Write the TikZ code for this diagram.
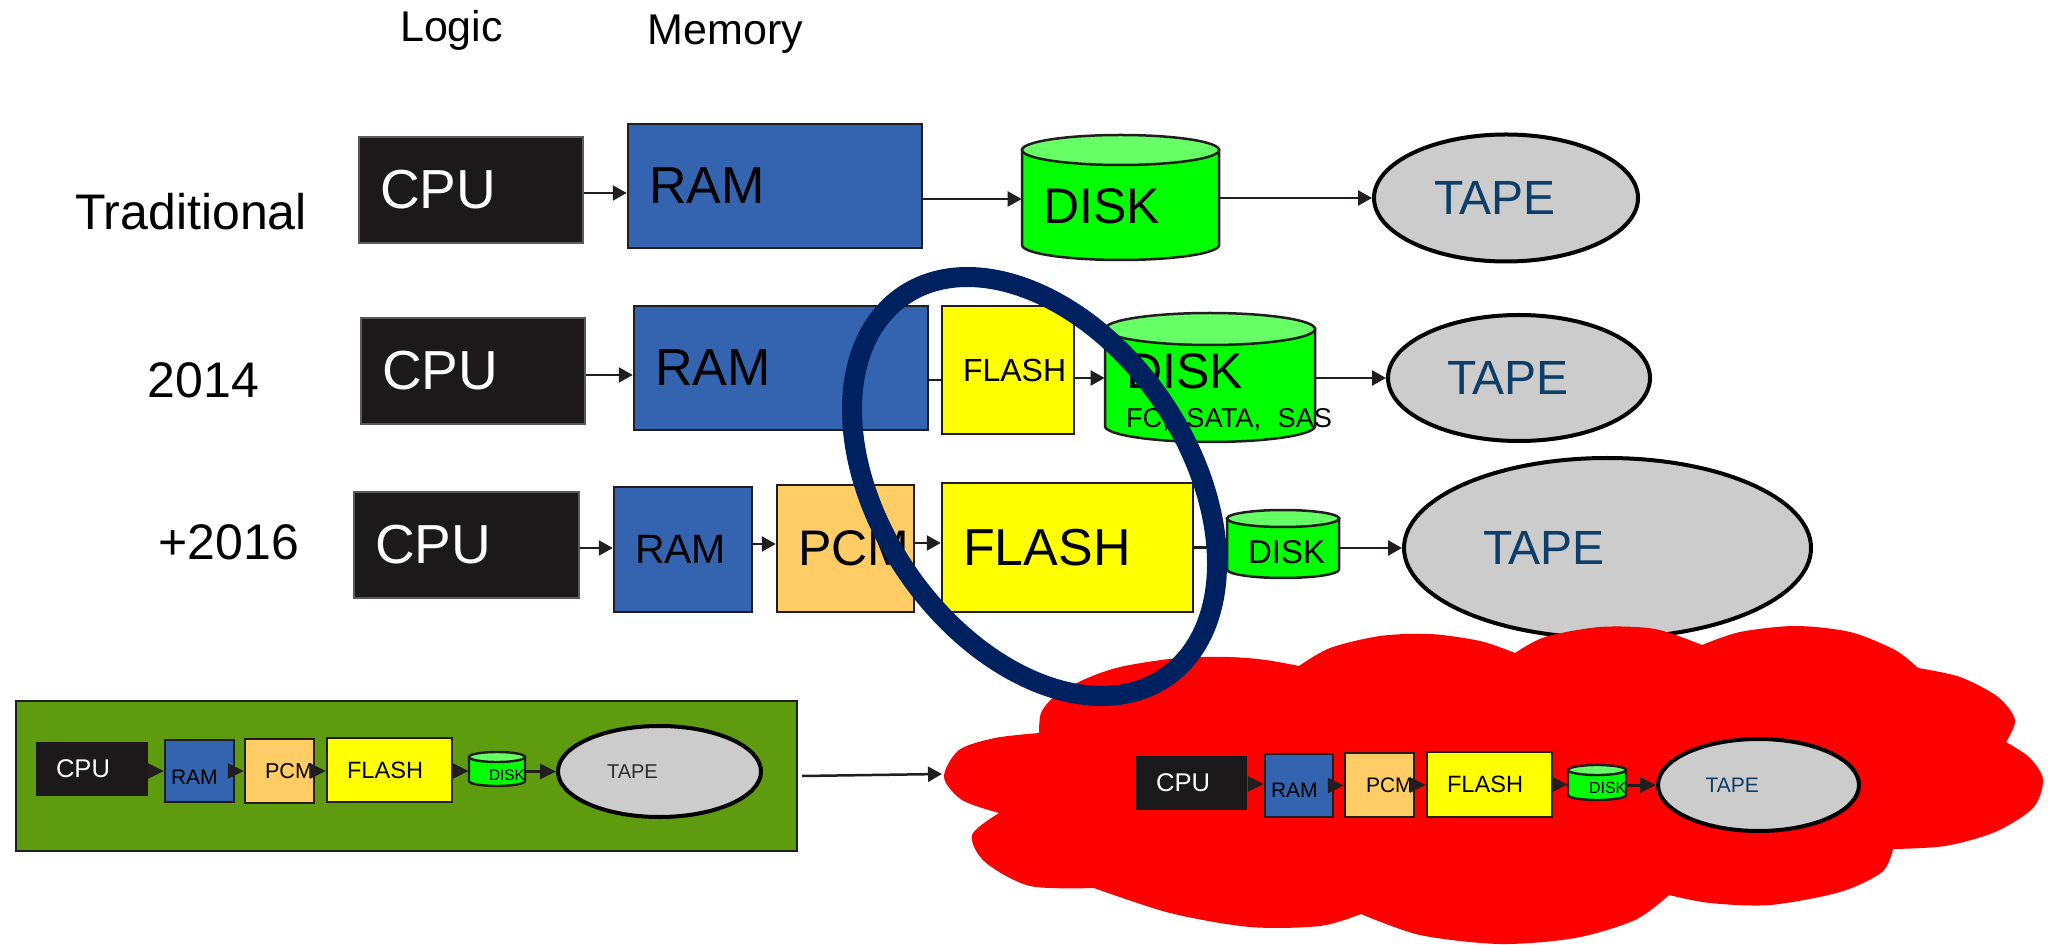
\documentclass[tikz,border=0pt]{standalone}
\usepackage{fontspec}
\setmainfont{Liberation Sans}
\usetikzlibrary{arrows.meta,shapes.geometric}
\hyphenpenalty=10000
\exhyphenpenalty=10000
\frenchspacing
\definecolor{linec}{RGB}{34,30,31}
\definecolor{cpuc}{RGB}{27,25,25}
\definecolor{cpub}{RGB}{90,90,90}
\definecolor{ramc}{RGB}{52,100,176}
\definecolor{pcmc}{RGB}{255,204,102}
\definecolor{flashc}{RGB}{255,255,0}
\definecolor{diskg}{RGB}{0,255,0}
\definecolor{diskt}{RGB}{102,255,102}
\definecolor{tapec}{RGB}{204,204,204}
\definecolor{tapet}{RGB}{12,62,105}
\definecolor{grnc}{RGB}{95,155,14}
\definecolor{navyc}{RGB}{0,33,96}
\definecolor{cloudr}{RGB}{255,0,0}
\definecolor{dgray}{RGB}{45,45,45}
\newcommand\fsz[1]{\fontsize{#1}{#1}\selectfont}
% cylinder body + lid: x1,y1,x2,y2 (pixels, y downward), lid half-height, line width
\newcommand\cylshape[6]{%
  \filldraw[fill=diskg,draw=linec,line width=#6] ({#1},{-(#2+#5)}) -- ({#1},{-(#4-#5)})
    arc[start angle=180,end angle=360,x radius={(#3-#1)/2},y radius={#5}] -- ({#3},{-(#2+#5)}) -- cycle;
  \filldraw[fill=diskt,draw=linec,line width=#6] ({(#1+#3)/2},{-(#2+#5)}) ellipse[x radius={(#3-#1)/2},y radius={#5}];
}
\tikzset{
  sz/.style n args={3}{minimum width=#1pt,minimum height=#2pt,text width=#3pt},
  bx/.style={rectangle,draw=linec,line width=1.25pt,inner xsep=10.5pt,inner ysep=0pt,align=left},
  cpu/.style={bx,fill=cpuc,draw=cpub,line width=0.75pt,text=white},
  ram/.style={bx,fill=ramc},
  pcm/.style={bx,fill=pcmc},
  flash/.style={bx,fill=flashc},
  dsk/.style={rectangle,inner xsep=10.5pt,inner ysep=0pt,align=left},
  tape/.style={ellipse,draw=black,line width=2pt,fill=tapec,text=tapet,inner sep=0pt,align=left},
  lbl/.style={font=\fsz{25}},
  hdr/.style={font=\fsz{21.5},anchor=base},
  arr/.style={draw=linec,line width=1.25pt,-{Triangle[length=7pt,width=7.5pt]}},
  ln/.style={draw=linec,line width=1.25pt},
  marr/.style={draw=linec,line width=1.5pt,-{Triangle[length=8pt,width=7.5pt]}},
}
\begin{document}
\begin{tikzpicture}[x=0.5pt,y=0.5pt]
\fill[white] (0,0) rectangle (2048,-945);
\useasboundingbox (0,0) rectangle (2048,-945);

% headers
\node[hdr] (hlog) at (451.5,-42) {Logic};
\node[hdr] (hmem) at (725.5,-45) {Memory};

% row 1
\node[lbl] (lab1) at (191,-212) {Traditional};
\node[cpu,sz={112}{53}{91},font=\fsz{27.5}] (c1) at (471,-190) {CPU};
\node[ram,sz={147}{62}{126},font=\fsz{26}] (r1) at (775,-186) {RAM};
\cylshape{1022}{135}{1219}{260}{15}{1.25pt}
\node[dsk,sz={98.5}{0}{77.5},font=\fsz{25}] (d1) at (1120.5,-206) {DISK};
\node[tape,minimum width=132pt,minimum height=63.5pt,text width=72pt,font=\fsz{24}] (t1) at (1506,-198) {TAPE};
\draw[arr] ([yshift=-1.5pt]c1.east) -- ([yshift=-1.5pt]c1.east -| r1.west);
\draw[arr] ([yshift=-6.5pt]r1.east) -- ([yshift=-6.5pt]r1.east -| d1.west);
\draw[arr] (d1.east |- t1.west) -- (t1.west);

% row 2
\node[lbl] (lab2) at (203.5,-380.5) {2014};
\node[cpu,sz={112}{53}{91},font=\fsz{27.5}] (c2) at (473,-371) {CPU};
\node[ram,sz={147}{62}{126},font=\fsz{26}] (r2) at (781,-368) {RAM};
\node[flash,sz={66}{64}{45},font=\fsz{16}] (f2) at (1008,-370) {FLASH};
\cylshape{1105}{313}{1315}{442}{16}{1.25pt}
\node[dsk,sz={105}{0}{84},font=\fontsize{25}{19.5}\selectfont] (d2) at (1210,-392) {DISK\\\mbox{\fsz{13.6}FC, SATA, SAS}};
\node[tape,minimum width=131pt,minimum height=63pt,text width=72pt,font=\fsz{24}] (t2) at (1519,-378) {TAPE};
\draw[arr] ([yshift=-2pt]c2.east) -- ([yshift=-2pt]c2.east -| r2.west);
\draw[ln] ([yshift=-6pt]r2.east) -- ([yshift=-6pt]r2.east -| f2.west);
\draw[arr] ([yshift=-4pt]f2.east) -- ([yshift=-4pt]f2.east -| d2.west);
\draw[arr] (d2.east |- t2.west) -- (t2.west);

% row 3
\node[lbl] (lab3) at (229,-542.5) {+2016};
\node[cpu,sz={112.5}{53}{91.5},font=\fsz{27.5}] (c3) at (466.5,-545) {CPU};
\node[ram,sz={69}{62.5}{48},font=\fsz{20.5}] (r3) at (683,-549.5) {RAM};
\node[pcm,sz={68.5}{63.5}{47.5},font=\fsz{25}] (p3) at (845.5,-548.5) {PCM};
\node[flash,sz={125.5}{64.5}{104.5},font=\fsz{26}] (f3) at (1067.5,-547.5) {FLASH};
\cylshape{1227}{510}{1339}{578}{8.5}{1.25pt}
\node[dsk,sz={56}{0}{35},font=\fsz{16.5}] (d3) at (1283,-552) {DISK};
\node[tape,minimum width=203.5pt,minimum height=90pt,text width=124.5pt,font=\fsz{24}] (t3) at (1607.5,-548) {TAPE};
\draw[arr] ([yshift=-1.5pt]c3.east) -- ([yshift=-1.5pt]c3.east -| r3.west);
\draw[arr] ([yshift=2.75pt]r3.east) -- ([yshift=2.75pt]r3.east -| p3.west);
\draw[arr] ([yshift=2.75pt]p3.east) -- ([yshift=2.75pt]p3.east -| f3.west);
\draw[ln] (f3.east) -- (f3.east -| d3.west);
\draw[arr] (d3.east |- t3.west) -- (t3.west);

% cloud
\fill[cloudr] plot[smooth] coordinates {(1039,-733) (1041,-713) (1054,-697) (1083,-680) (1120,-667) (1178,-658) (1229,-657) (1266,-660) (1299,-666)}
 -- plot[smooth] coordinates {(1299,-666) (1330,-648) (1380,-636) (1430,-634) (1480,-641) (1515,-653)}
 -- plot[smooth] coordinates {(1515,-653) (1545,-637) (1600,-627) (1655,-629) (1702,-645)}
 -- plot[smooth] coordinates {(1702,-645) (1740,-632) (1795,-626) (1850,-632) (1895,-650) (1918,-668)}
 -- plot[smooth] coordinates {(1918,-668) (1960,-677) (1998,-697) (2015,-720) (2006,-742)}
 -- plot[smooth] coordinates {(2006,-742) (2030,-758) (2043,-780) (2033,-808) (1995,-832) (1945,-846) (1893,-849)}
 -- plot[smooth] coordinates {(1893,-849) (1882,-872) (1840,-892) (1770,-905) (1710,-903) (1669,-895)}
 -- plot[smooth] coordinates {(1669,-895) (1635,-920) (1575,-938) (1500,-944) (1420,-935) (1361,-914)}
 -- plot[smooth] coordinates {(1361,-914) (1320,-926) (1250,-927) (1170,-913) (1094,-888)}
 -- plot[smooth] coordinates {(1094,-888) (1030,-886) (985,-862) (972,-835) (999,-813)}
 -- plot[smooth] coordinates {(999,-813) (962,-800) (944,-777) (959,-750) (995,-738) (1039,-733)}
 -- cycle;
\coordinate (cloudL) at (942,-774);

% cloud contents
\node[cpu,draw=none,sz={55.5}{27}{35.5},inner xsep=10pt,font=\fsz{12.8}] (kc) at (1191.5,-783) {CPU};
\node[ram,line width=1.2pt,sz={34}{31.5}{28},inner xsep=3pt,font=\fsz{10.5}] (kr) at (1299,-785.5) {\raisebox{-2.25pt}[\height][\depth]{RAM}};
\node[pcm,line width=1.2pt,sz={34.5}{32}{13.5},font=\fsz{10.5}] (kp) at (1379.5,-785) {PCM};
\node[flash,line width=1.2pt,sz={62.5}{32.5}{42.5},inner xsep=10pt,font=\fsz{11.8}] (kf) at (1489.5,-784.5) {FLASH};
\cylshape{1568}{765}{1626}{800}{5}{1.2pt}
\node[dsk,sz={29}{0}{8},font=\fsz{8}] (kd) at (1597,-788) {DISK};
\node[tape,minimum width=100.5pt,minimum height=46pt,text width=53pt,font=\fsz{10.5}] (kt) at (1758.5,-785) {TAPE};
\draw[marr] ([yshift=-0.5pt]kc.east) -- ([yshift=-0.5pt]kc.east -| kr.west);
\draw[marr] (kr.east) -- (kr.east -| kp.west);
\draw[marr] (kp.east) -- (kp.east -| kf.west);
\draw[marr] (kf.east) -- (kf.east -| kd.west);
\draw[marr] (kd.east |- kt.west) -- (kt.west);

% green group
\node[draw=linec,line width=1pt,fill=grnc,minimum width=390.5pt,minimum height=75pt,inner sep=0pt] (grp) at (406.5,-776) {};
\node[cpu,draw=none,sz={56}{27}{36},inner xsep=10pt,font=\fsz{12.8}] (gc) at (92,-769) {CPU};
\node[ram,line width=1.2pt,sz={34.5}{31}{28.5},inner xsep=3pt,font=\fsz{10.5}] (gr) at (199.5,-771) {\raisebox{-3pt}[\height][\depth]{RAM}};
\node[pcm,line width=1.2pt,sz={34.5}{32}{14.5},inner xsep=10pt,font=\fsz{10.8}] (gp) at (279.5,-771) {PCM};
\node[flash,line width=1.2pt,sz={62.5}{32}{42.5},inner xsep=10pt,font=\fsz{11.8}] (gf) at (389.5,-770) {FLASH};
\cylshape{469}{752}{525}{786}{5}{1.2pt}
\node[dsk,sz={28}{0}{8},inner xsep=10pt,font=\fsz{7.7}] (gd) at (497,-775) {DISK};
\node[tape,minimum width=101.5pt,minimum height=45.5pt,text width=52.5pt,text=dgray,font=\fsz{10}] (gt) at (659.5,-771.5) {TAPE};
\draw[marr] ([yshift=-1pt]gc.east) -- ([yshift=-1pt]gc.east -| gr.west);
\draw[marr] (gr.east) -- (gr.east -| gp.west);
\draw[marr] (gp.east) -- (gp.east -| gf.west);
\draw[marr] ([yshift=-0.5pt]gf.east) -- ([yshift=-0.5pt]gf.east -| gd.west);
\draw[marr] (gd.east |- gt.west) -- (gt.west);
\draw[arr] ([xshift=2pt]grp.east) -- (cloudL);

% highlight ellipse
\node[ellipse,draw=navyc,line width=10pt,minimum width=231.5pt,minimum height=153.6pt,inner sep=0pt,rotate=-55.3] (hl) at (1034.5,-486.5) {};
\end{tikzpicture}
\end{document}
